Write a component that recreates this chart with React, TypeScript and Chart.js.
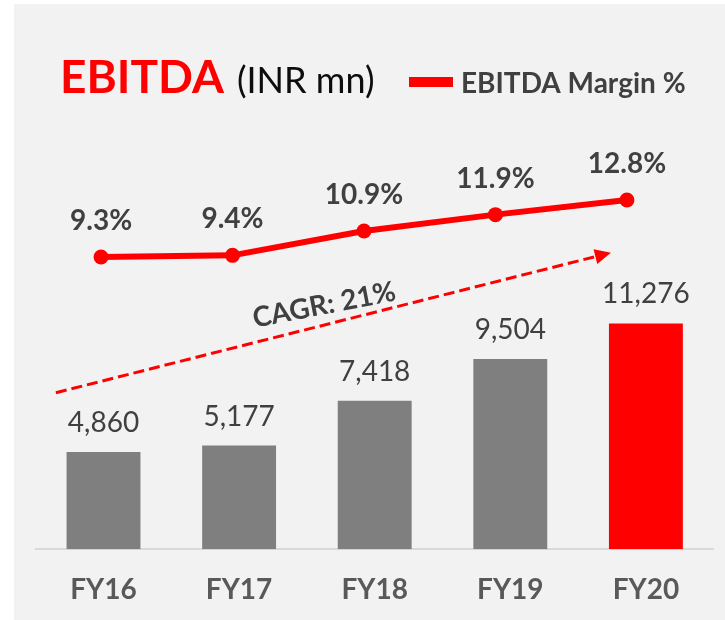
import React, { useEffect, useRef } from "react";
import { Chart, registerables } from "chart.js";

Chart.register(...registerables);

const categories = ["FY16", "FY17", "FY18", "FY19", "FY20"];
const ebitda = [4860, 5177, 7418, 9504, 11276];
const margin = [9.3, 9.4, 10.9, 11.9, 12.8];
const cagrLabel = "CAGR: 21%";
const titleMain = "EBITDA";
const titleUnit = "(INR mn)";
const legendLabel = "EBITDA Margin %";

const FONT = "Lato, 'Open Sans', sans-serif";
const RED = "#ff0000";
const GRAY = "#7f7f7f";
const TEXT = "#404040";

const decorPlugin = {
  id: "decor",
  beforeDraw(chart: any) {
    const { ctx, width, height } = chart;
    ctx.save();
    ctx.fillStyle = "#ffffff";
    ctx.fillRect(0, 0, width, height);
    ctx.fillStyle = "#f2f2f2";
    ctx.fillRect(14, 4, width - 14, height - 4);
    ctx.textBaseline = "alphabetic";
    ctx.textAlign = "left";
    ctx.fillStyle = RED;
    ctx.font = `bold 46px ${FONT}`;
    ctx.fillText(titleMain, 60, 93);
    const w = ctx.measureText(titleMain).width;
    ctx.fillStyle = "#0d0d0d";
    ctx.font = `36px ${FONT}`;
    ctx.fillText(titleUnit, 60 + w + 13, 93);
    ctx.fillStyle = RED;
    ctx.fillRect(409, 77, 44, 10);
    ctx.fillStyle = TEXT;
    ctx.font = `bold 28px ${FONT}`;
    ctx.fillText(legendLabel, 461, 93);
    ctx.restore();
  },
  afterDatasetsDraw(chart: any) {
    const { ctx } = chart;
    const xs = chart.scales.x;
    const ys = chart.scales.y;
    ctx.save();
    const x1 = xs.getPixelForValue(-0.351);
    const y1 = ys.getPixelForValue(7818);
    const x2 = xs.getPixelForValue(3.742);
    const y2 = ys.getPixelForValue(14808);
    const ang = Math.atan2(y2 - y1, x2 - x1);
    const headLen = 16;
    const headHalf = 7.5;
    const bx = x2 - headLen * Math.cos(ang);
    const by = y2 - headLen * Math.sin(ang);
    ctx.strokeStyle = RED;
    ctx.lineWidth = 3;
    ctx.setLineDash([11, 5]);
    ctx.beginPath();
    ctx.moveTo(x1, y1);
    ctx.lineTo(bx, by);
    ctx.stroke();
    ctx.setLineDash([]);
    ctx.fillStyle = RED;
    ctx.beginPath();
    ctx.moveTo(x2, y2);
    ctx.lineTo(bx + headHalf * Math.sin(ang), by - headHalf * Math.cos(ang));
    ctx.lineTo(bx - headHalf * Math.sin(ang), by + headHalf * Math.cos(ang));
    ctx.closePath();
    ctx.fill();
    const tx = xs.getPixelForValue(1.64);
    const ty = ys.getPixelForValue(11747);
    ctx.translate(tx, ty);
    ctx.rotate((-11 * Math.PI) / 180);
    ctx.fillStyle = TEXT;
    ctx.font = `bold 28px ${FONT}`;
    ctx.textAlign = "center";
    ctx.textBaseline = "alphabetic";
    ctx.fillText(cagrLabel, 0, 0);
    ctx.restore();

    ctx.save();
    ctx.textAlign = "center";
    ctx.textBaseline = "alphabetic";
    ctx.fillStyle = TEXT;
    chart.data.datasets.forEach((ds: any, di: number) => {
      const meta = chart.getDatasetMeta(di);
      meta.data.forEach((el: any, i: number) => {
        if (ds.type === "line") {
          ctx.font = `bold 28px ${FONT}`;
          ctx.fillText(margin[i].toFixed(1) + "%", el.x, el.y - 27);
        } else {
          ctx.font = `28px ${FONT}`;
          ctx.fillText(ebitda[i].toLocaleString("en-US"), el.x, el.y - 20);
        }
      });
    });
    ctx.restore();
  },
};

export default function App() {
  const ref = useRef<HTMLCanvasElement | null>(null);
  useEffect(() => {
    if (!ref.current) return;
    const top = 120;
    const bottom = 549.3;
    const pxPerUnit = 0.02003;
    const yMax = (bottom - top) / pxPerUnit;
    const pxPerPct = 16.29;
    const yLineMin = 9.3 - (bottom - 257) / pxPerPct;
    const yLineMax = 9.3 + (257 - top) / pxPerPct;
    const chart = new Chart(ref.current, {
      type: "bar",
      data: {
        labels: categories,
        datasets: [
          {
            type: "line",
            label: legendLabel,
            data: margin.map((v, i) => ({ x: i, y: v })),
            xAxisID: "xLine",
            yAxisID: "yLine",
            borderColor: RED,
            backgroundColor: RED,
            borderWidth: 6,
            pointRadius: 7.5,
            pointBackgroundColor: RED,
            pointBorderWidth: 0,
            tension: 0,
            order: 0,
          } as any,
          {
            type: "bar",
            label: "EBITDA",
            data: ebitda,
            xAxisID: "x",
            yAxisID: "y",
            backgroundColor: ebitda.map((_, i) => (i === ebitda.length - 1 ? RED : GRAY)),
            categoryPercentage: 1,
            barPercentage: 0.545,
            grouped: false,
            order: 1,
          } as any,
        ],
      },
      options: {
        responsive: false,
        animation: false,
        devicePixelRatio: 1,
        layout: { padding: { top: top, left: 35.7, right: 11.3, bottom: -10.9 } },
        plugins: {
          legend: { display: false },
          title: { display: false },
          tooltip: { enabled: false },
        },
        scales: {
          x: {
            type: "category",
            offset: true,
            grid: { display: false, drawTicks: false },
            border: { display: true, color: "#d9d9d9", width: 2 },
            ticks: {
              color: "#595959",
              font: { family: FONT, size: 28, weight: "bold" },
              padding: 24,
              maxRotation: 0,
            },
          },
          xLine: {
            type: "linear",
            display: false,
            offset: false,
            grid: { offset: false },
            min: -0.497,
            max: 4.66,
          },
          y: { display: false, min: 0, max: yMax },
          yLine: { display: false, min: yLineMin, max: yLineMax },
        },
      } as any,
      plugins: [decorPlugin],
    });
    return () => chart.destroy();
  }, []);
  return (
    <div style={{ position: "absolute", left: 0, top: 0, width: 725, height: 620 }}>
      <canvas ref={ref} width={725} height={620} style={{ display: "block" }} />
    </div>
  );
}
